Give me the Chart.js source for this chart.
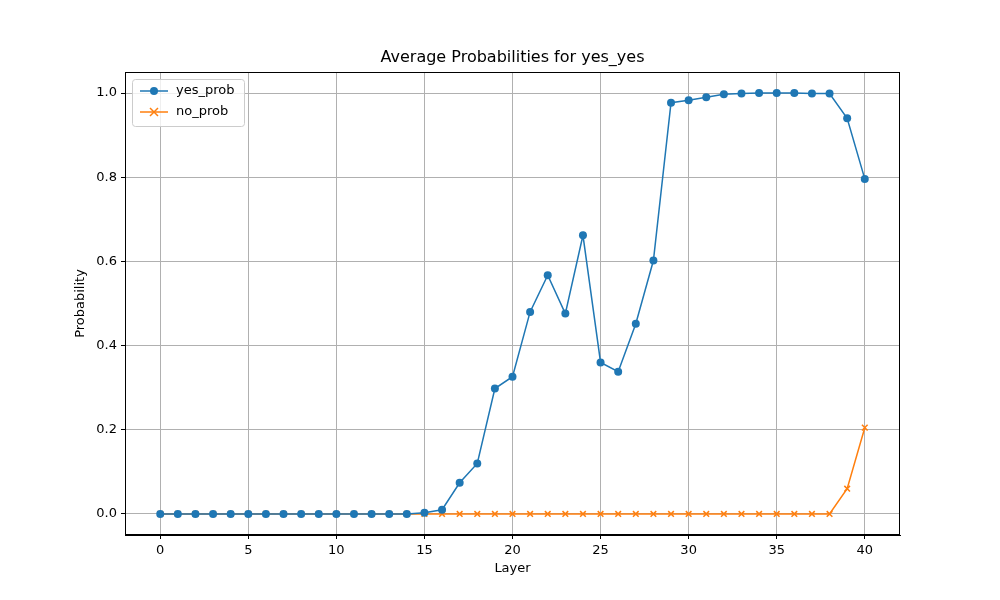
<!DOCTYPE html>
<html><head><meta charset="utf-8">
<script src="https://cdn.jsdelivr.net/npm/chart.js@4"></script>
<style>body{margin:0;background:#fff}#wrap{width:1000px;height:600px}</style>
</head><body><div id="wrap"><canvas id="c" width="1000" height="600"></canvas></div>
<script>
const layers = Array.from({length: 41}, (_, i) => i);
const yesProb = [0,0,0,0,0,0,0,0,0,0,0,0,0,0,0,0.003,0.01,0.074,0.12,0.298,0.326,0.48,0.567,0.476,0.662,0.36,0.338,0.452,0.602,0.977,0.983,0.99,0.997,0.999,1.0,1.0,1.0,0.999,0.999,0.94,0.796];
const noProb = [0,0,0,0,0,0,0,0,0,0,0,0,0,0,0,0,0,0,0,0,0,0,0,0,0,0,0,0,0,0,0,0,0,0,0,0,0,0,0,0.06,0.205];
const xTicks = [0,5,10,15,20,25,30,35,40];
const yTicks = [0,0.2,0.4,0.6,0.8,1.0];
const blue = '#1f77b4', orange = '#ff7f0e';
Chart.defaults.font.family = 'DejaVu Sans';
Chart.defaults.font.size = 13;
Chart.defaults.color = '#000';

const extras = {
  id: 'extras',
  afterDraw(chart) {
    const ctx = chart.ctx, a = chart.chartArea;
    ctx.save();
    // frame
    ctx.strokeStyle = '#000';
    ctx.lineWidth = 1;
    ctx.strokeRect(a.left + 0.5, a.top + 0.5, a.right - a.left - 1, a.bottom - a.top - 1);
    ctx.fillStyle = '#000';
    ctx.font = '16px DejaVu Sans';
    ctx.textAlign = 'center';
    ctx.textBaseline = 'bottom';
    ctx.fillText('Average Probabilities for yes_yes', (a.left + a.right) / 2, a.top - 6);
    // axis titles
    ctx.font = '13px DejaVu Sans';
    ctx.textBaseline = 'middle';
    ctx.fillText('Layer', (a.left + a.right) / 2, 569);
    ctx.save();
    ctx.translate(81, (a.top + a.bottom) / 2);
    ctx.rotate(-Math.PI / 2);
    ctx.fillText('Probability', 0, 0);
    ctx.restore();
    // legend
    const x0 = a.left + 7, y0 = a.top + 7;
    ctx.fillStyle = 'rgba(255,255,255,0.8)';
    ctx.strokeStyle = '#ccc';
    ctx.lineWidth = 1;
    ctx.beginPath();
    ctx.roundRect(x0 + 0.5, y0 + 0.5, 112, 47, 3);
    ctx.fill(); ctx.stroke();
    const items = [['yes_prob', blue, 'circle'], ['no_prob', orange, 'x']];
    items.forEach((it, i) => {
      const y = y0 + 12 + i * 21;
      ctx.strokeStyle = it[1];
      ctx.lineWidth = 1.5;
      ctx.beginPath(); ctx.moveTo(x0 + 8, y); ctx.lineTo(x0 + 36, y); ctx.stroke();
      if (it[2] === 'circle') {
        ctx.fillStyle = it[1];
        ctx.beginPath(); ctx.arc(x0 + 22, y, 4, 0, Math.PI * 2); ctx.fill();
      } else {
        ctx.beginPath();
        ctx.moveTo(x0 + 18, y - 4); ctx.lineTo(x0 + 26, y + 4);
        ctx.moveTo(x0 + 26, y - 4); ctx.lineTo(x0 + 18, y + 4);
        ctx.stroke();
      }
      ctx.fillStyle = '#000';
      ctx.font = '13px DejaVu Sans';
      ctx.textAlign = 'left';
      ctx.textBaseline = 'middle';
      ctx.fillText(it[0], x0 + 44, y);
    });
    ctx.restore();
  }
};

new Chart(document.getElementById('c'), {
  type: 'line',
  data: {
    labels: layers,
    datasets: [
      { label: 'yes_prob', data: layers.map((l, i) => ({x: l, y: yesProb[i]})), borderColor: blue, backgroundColor: blue,
        borderWidth: 1.5, pointRadius: 4, pointStyle: 'circle', pointBorderWidth: 0 },
      { label: 'no_prob', data: layers.map((l, i) => ({x: l, y: noProb[i]})), borderColor: orange, backgroundColor: orange,
        borderWidth: 1.5, pointRadius: 4, pointStyle: 'crossRot', pointBorderWidth: 1.5 }
    ]
  },
  options: {
    responsive: false, animation: false,
    layout: { padding: { top: 72, right: 100, left: 0, bottom: 0 } },
    plugins: { legend: { display: false }, tooltip: { enabled: false } },
    scales: {
      x: {
        type: 'linear', min: -2, max: 42,
        afterBuildTicks: s => { s.ticks = xTicks.map(v => ({value: v})); },
        afterFit: s => { s.height = 65; },
        grid: { color: '#b0b0b0', tickLength: 4, tickColor: '#000' },
        border: { color: '#000' },
        ticks: { padding: 4 }
      },
      y: {
        min: -0.05, max: 1.05,
        afterBuildTicks: s => { s.ticks = yTicks.map(v => ({value: v})); },
        afterFit: s => { s.width = 125; },
        grid: { color: '#b0b0b0', tickLength: 4, tickColor: '#000' },
        border: { color: '#000' },
        ticks: { padding: 4, callback: v => v.toFixed(1) }
      }
    }
  },
  plugins: [extras]
});
</script></body></html>
